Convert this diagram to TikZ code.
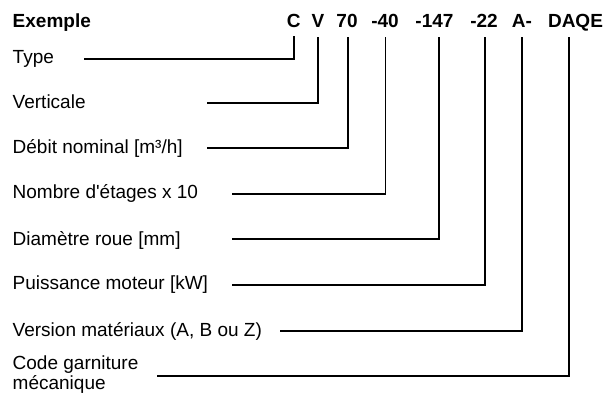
\documentclass[tikz,border=0pt]{standalone}
\usepackage{fontspec}
\setmainfont{Liberation Sans}
\begin{document}
\begin{tikzpicture}[x=1pt,y=-1pt,
  lbl/.style={anchor=base west,inner sep=0pt,font=\fontsize{19}{22}\selectfont},
  code/.style={anchor=base,inner sep=0pt,font=\fontsize{19}{22}\selectfont\bfseries},
  leader/.style={line width=1.3pt}]
\useasboundingbox (0,0) rectangle (605,394);

% header line
\node[lbl,font=\fontsize{19}{22}\selectfont\bfseries] (ex) at (12.5,27.4) {Exemple};
\node[code] (cC) at (293.7,27.4) {C};
\node[code] (cV) at (318,27.4) {V};
\node[code] (c70) at (347,27.4) {70};
\node[code] (c40) at (385,27.4) {-40};
\node[code] (c147) at (434.5,27.4) {-147};
\node[code] (c22) at (484,27.4) {-22};
\node[code] (cA) at (522,27.4) {A-};
\node[code] (cD) at (575.5,27.4) {DAQE};

% field labels
\node[lbl] (lType) at (12.5,63.3) {Type};
\node[lbl] (lVert) at (12.5,108.3) {Verticale};
\node[lbl] (lDeb) at (12.5,153.3) {Débit nominal [m³/h]};
\node[lbl] (lNb) at (12.5,198) {Nombre d\textquotesingle étages x 10};
\node[lbl] (lDia) at (12.5,245) {Diamètre roue [mm]};
\node[lbl] (lPui) at (12.5,289.3) {Puissance moteur [kW]};
\node[lbl] (lVer) at (12.5,336) {Version matériaux (A, B ou Z)};
\node[lbl] (lCode) at (12.5,369) {Code garniture};
\node[lbl] (lCode2) at (12.5,389) {mécanique};

% tops of the leaders under each code
\coordinate (tC) at (294,36);
\coordinate (tV) at (318,37);
\coordinate (t70) at (348,37);
\coordinate (t40) at (385.5,37);
\coordinate (t147) at (439,37);
\coordinate (t22) at (485,37);
\coordinate (tA) at (522,37);
\coordinate (tD) at (569,37);

% free ends of the leaders beside each label
\coordinate (eType) at (84,59);
\coordinate (eVert) at (207,103);
\coordinate (eDeb) at (207,148);
\coordinate (eNb) at (232,194);
\coordinate (eDia) at (232,239);
\coordinate (ePui) at (232,285);
\coordinate (eVer) at (280,331);
\coordinate (eCode) at (157,376);

\draw[leader] (eType) -| (tC);
\draw[leader] (eVert) -| (tV);
\draw[leader] (eDeb) -| (t70);
\draw[leader] (eNb) -| (t40);
\draw[leader] (eDia) -| (t147);
\draw[leader] (ePui) -| (t22);
\draw[leader] (eVer) -| (tA);
\draw[leader] (eCode) -| (tD);
\end{tikzpicture}
\end{document}
